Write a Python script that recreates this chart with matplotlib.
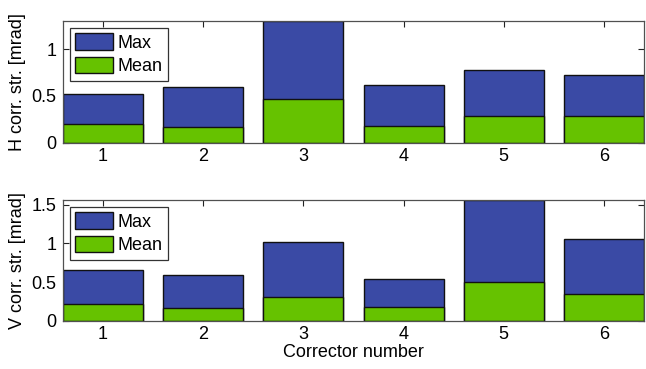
import matplotlib
matplotlib.use("Agg")
import matplotlib.pyplot as plt
import numpy as np

plt.rcParams['font.family'] = ['Liberation Sans', 'DejaVu Sans']

correctors = [1, 2, 3, 4, 5, 6]
h_max = [0.52, 0.60, 1.30, 0.62, 0.78, 0.72]
h_mean = [0.20, 0.17, 0.47, 0.18, 0.28, 0.28]
v_max = [0.65, 0.59, 1.02, 0.54, 1.56, 1.05]
v_mean = [0.22, 0.17, 0.30, 0.18, 0.50, 0.35]
h_yticks = [0, 0.5, 1]
v_yticks = [0, 0.5, 1, 1.5]
h_ylim = 1.30
v_ylim = 1.56

BLUE = '#3a4aa5'
GREEN = '#66c200'
SPINE = '#505050'
FS = 13

fig = plt.figure(figsize=(6.46, 3.69), dpi=100)
W, H = 646, 369


def add_axes(left, top, right, bottom):
    return fig.add_axes([left / W, 1 - bottom / H, (right - left) / W, (bottom - top) / H])


ax_h = add_axes(63, 21, 644, 142.7)
ax_v = add_axes(63, 200, 644, 320.7)


def draw(ax, maxv, meanv, yticks, ylim, ylabel):
    x = np.array(correctors)
    ax.bar(x, maxv, 0.8, color=BLUE, edgecolor='#111111', linewidth=1.0, label='Max', zorder=2)
    ax.bar(x, meanv, 0.8, color=GREEN, edgecolor='#111111', linewidth=1.0, label='Mean', zorder=3)
    ax.set_xlim(0.6, 6.4)
    ax.set_ylim(0, ylim)
    ax.set_xticks(correctors)
    ax.set_xticklabels([str(c) for c in correctors])
    ax.set_yticks(yticks)
    ax.set_yticklabels([f"{t:g}" for t in yticks])
    ax.tick_params(direction='in', length=4, width=0.8, colors='#222222', labelsize=FS,
                   top=True, right=True, labelcolor='black')
    ax.tick_params(axis='x', pad=3.5)
    ax.tick_params(axis='y', pad=4.5)
    for s in ax.spines.values():
        s.set_color(SPINE)
        s.set_linewidth(0.9)
        s.set_zorder(4)
    ax.set_ylabel(ylabel, fontsize=FS, labelpad=4)
    leg = ax.legend(loc='upper left', fontsize=FS, fancybox=False, framealpha=1,
                    edgecolor='#333333', handlelength=2.1, handleheight=1.0,
                    handletextpad=0.22, borderpad=0.3, labelspacing=0.3,
                    borderaxespad=0.39)
    leg.get_frame().set_linewidth(0.9)
    leg.set_zorder(5)


draw(ax_h, h_max, h_mean, h_yticks, h_ylim, 'H corr. str. [mrad]')
draw(ax_v, v_max, v_mean, v_yticks, v_ylim, 'V corr. str. [mrad]')
ax_v.set_xlabel('Corrector number', fontsize=FS, labelpad=1)

fig.savefig('out.png', dpi=100)
